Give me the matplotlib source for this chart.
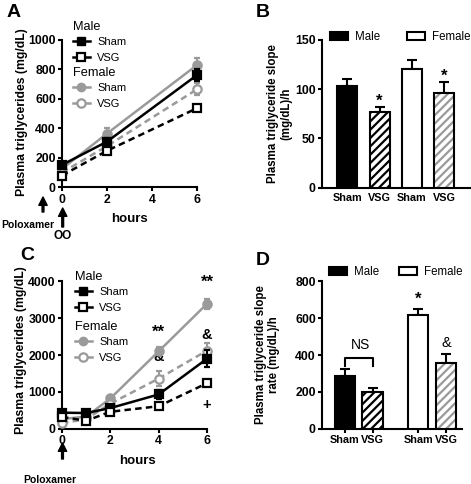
import matplotlib
matplotlib.use("Agg")
import matplotlib.pyplot as plt
from matplotlib.lines import Line2D
from matplotlib.patches import Patch

plt.rcParams['font.family'] = ['Liberation Sans', 'DejaVu Sans']
plt.rcParams['hatch.linewidth'] = 1.6

#---------------------------
# panel A: triglycerides after poloxamer + oil gavage
hours_a = [0, 2, 6]
a_male_sham = [152, 310, 762]
a_male_sham_err = [18, 25, 42]
a_male_vsg = [80, 248, 537]
a_male_vsg_err = [12, 18, 18]
a_female_sham = [125, 365, 830]
a_female_sham_err = [15, 35, 50]
a_female_vsg = [100, 280, 665]
a_female_vsg_err = [12, 25, 40]

# panel B: slopes
bar_labels = ['Sham', 'VSG', 'Sham', 'VSG']
b_vals = [103, 77, 121, 96.5]
b_err = [7, 5, 9, 11]

# panel C: triglycerides after poloxamer only
hours_c = [0, 1, 2, 4, 6]
c_male_sham = [435, 425, 560, 930, 1900]
c_male_sham_err = [60, 50, 60, 120, 230]
c_male_vsg = [320, 215, 460, 610, 1235]
c_male_vsg_err = [40, 30, 50, 60, 80]
c_female_sham = [260, 330, 820, 2100, 3390]
c_female_sham_err = [40, 40, 70, 120, 130]
c_female_vsg = [150, 260, 680, 1360, 2120]
c_female_vsg_err = [30, 30, 80, 200, 200]
c_marks = [(4, 2620, '**'), (6, 3980, '**'), (4, 1935, '&'), (6, 2540, '&'), (6, 640, '+')]

# panel D: slope rate
d_vals = [288, 199, 617, 355]
d_err = [34, 20, 31, 50]

GRAY = '#9a9a9a'
W, H = 471, 484

fig = plt.figure(figsize=(W / 100, H / 100), dpi=100)

def px_axes(l, t, r, b):
    return fig.add_axes([l / W, 1 - b / H, (r - l) / W, (b - t) / H])

def style(ax):
    for s in ['top', 'right']:
        ax.spines[s].set_visible(False)
    for s in ['left', 'bottom']:
        ax.spines[s].set_linewidth(1.5)
    ax.tick_params(direction='out', length=3, width=1.5, labelsize=8.8, pad=1.5)
    for t in ax.get_xticklabels() + ax.get_yticklabels():
        t.set_fontweight('bold')

def line_series(ax, x, series):
    for y, e, col, ls, mk, mfc, z in series:
        cont = ax.errorbar(x, y, yerr=e, color=col, ls=ls, marker=mk, mfc=mfc, mec=col,
                           ms=6, mew=1.6, lw=1.8, capsize=2.5, elinewidth=1.5,
                           capthick=1.5, zorder=z)
        for art in cont.get_children():
            art.set_clip_on(False)

def line_legends(ax, x0, y_male, y_female):
    # group headers as plain text, entries as two small legends
    h_ms = Line2D([], [], color='black', marker='s', ms=6, mfc='black', lw=1.8)
    h_mv = Line2D([], [], color='black', marker='s', ms=6, mfc='white', mew=1.6, lw=1.8)
    h_fs = Line2D([], [], color=GRAY, marker='o', ms=6, mfc=GRAY, lw=1.8)
    h_fv = Line2D([], [], color=GRAY, marker='o', ms=6, mfc='white', mew=1.6, lw=1.8)
    opts = dict(loc='center left', bbox_transform=fig.transFigure, frameon=False, fontsize=8,
                borderpad=0, borderaxespad=0, handlelength=1.5, handletextpad=0.7,
                labelspacing=0.55)
    leg1 = ax.legend([h_ms, h_mv], ['Sham', 'VSG'],
                     bbox_to_anchor=(x0 / W, 1 - (y_male + 23) / H), **opts)
    ax.add_artist(leg1)
    ax.legend([h_fs, h_fv], ['Sham', 'VSG'],
              bbox_to_anchor=(x0 / W, 1 - (y_female + 23) / H), **opts)
    fig.text(x0 / W, 1 - y_male / H, 'Male', fontsize=9.2, va='center')
    fig.text(x0 / W, 1 - y_female / H, 'Female', fontsize=9.2, va='center')

def up_arrow(x, ytop, ybot):
    fig.axes[0].annotate('', xy=(x / W, 1 - ytop / H), xytext=(x / W, 1 - ybot / H),
                         xycoords='figure fraction', textcoords='figure fraction',
                         annotation_clip=False,
                         arrowprops=dict(facecolor='black', edgecolor='black', width=1.3,
                                         headwidth=6, headlength=6, shrink=0))

dash = (0, (2.6, 1.7))

#-------------------------
# A
axA = px_axes(62, 40, 197, 187.3)
line_series(axA, hours_a, [
    (a_female_sham, a_female_sham_err, GRAY, '-', 'o', GRAY, 3),
    (a_female_vsg, a_female_vsg_err, GRAY, dash, 'o', 'white', 3),
    (a_male_sham, a_male_sham_err, 'black', '-', 's', 'black', 4),
    (a_male_vsg, a_male_vsg_err, 'black', dash, 's', 'white', 4),
])
axA.set_xlim(0, 6)
axA.set_ylim(0, 1000)
axA.set_xticks([0, 2, 4, 6])
axA.set_yticks([0, 200, 400, 600, 800, 1000])
style(axA)
axA.set_ylabel('Plasma triglycerides (mg/dL)', fontsize=8.8, fontweight='bold')
axA.yaxis.set_label_coords(-0.255, 0.51)
axA.set_xlabel('hours', fontsize=9.5, fontweight='bold')
axA.xaxis.set_label_coords(0.5, -0.174)
line_legends(axA, 73, 27, 73)

#-------------------------
# B
axB = px_axes(322, 40, 470, 187.7)
pos_b = [0, 1, 2, 3]
axB.errorbar(pos_b, b_vals, yerr=[[0] * 4, b_err], fmt='none', ecolor='black',
             elinewidth=1.5, capsize=3.5, capthick=1.5, zorder=2)
bw = 0.62
axB.bar(pos_b[0], b_vals[0], bw, color='black', edgecolor='black', lw=1.5, zorder=3)
axB.bar(pos_b[1], b_vals[1], bw, color='white', edgecolor='black', hatch='////', lw=1.5, zorder=3)
axB.bar(pos_b[2], b_vals[2], bw, color='white', edgecolor='black', lw=1.5, zorder=3)
axB.bar(pos_b[3], b_vals[3], bw, color='white', edgecolor=GRAY, hatch='////', lw=0, zorder=3)
axB.bar(pos_b[3], b_vals[3], bw, fill=False, edgecolor='black', lw=1.5, zorder=3)
axB.set_xlim(-0.78, 3.79)
axB.set_ylim(0, 150)
axB.set_yticks([0, 50, 100, 150])
axB.set_xticks(pos_b)
axB.set_xticklabels(bar_labels)
style(axB)
axB.tick_params(axis='x', length=0, pad=4, labelsize=7.8)
axB.text(1, 88, '*', ha='center', va='center', fontsize=12, fontweight='bold')
axB.text(3, 113, '*', ha='center', va='center', fontsize=12, fontweight='bold')
axB.set_ylabel('Plasma triglyceride slope\n(mg/dL)/h', fontsize=8.3, fontweight='bold',
               linespacing=1.1)
axB.yaxis.set_label_coords(-0.203, 0.5)
bar_handles = [Patch(facecolor='black', edgecolor='black', lw=1.5),
               Patch(facecolor='white', edgecolor='black', lw=1.5)]
axB.legend(bar_handles, ['Male', 'Female'], ncol=2, loc='center left',
           bbox_to_anchor=(330 / W, 1 - 37 / H), bbox_transform=fig.transFigure,
           frameon=False, fontsize=8.3, borderpad=0, borderaxespad=0,
           handlelength=1.6, handletextpad=0.6, columnspacing=2.3)

#-------------------------
# C
axC = px_axes(62, 281.3, 207, 428.7)
line_series(axC, hours_c, [
    (c_female_sham, c_female_sham_err, GRAY, '-', 'o', GRAY, 3),
    (c_female_vsg, c_female_vsg_err, GRAY, dash, 'o', 'white', 3),
    (c_male_sham, c_male_sham_err, 'black', '-', 's', 'black', 4),
    (c_male_vsg, c_male_vsg_err, 'black', dash, 's', 'white', 4),
])
axC.set_xlim(0, 6)
axC.set_ylim(0, 4000)
axC.set_xticks([0, 2, 4, 6])
axC.set_yticks([0, 1000, 2000, 3000, 4000])
style(axC)
for x, y, s in c_marks:
    axC.text(x, y, s, ha='center', va='center', fontsize=12 if '*' in s else 10.5,
             fontweight='bold')
axC.set_ylabel('Plasma triglycerides (mg/dL)', fontsize=8.8, fontweight='bold')
axC.yaxis.set_label_coords(-0.238, 0.534)
axC.set_xlabel('hours', fontsize=9.5, fontweight='bold')
axC.xaxis.set_label_coords(0.517, -0.178)
line_legends(axC, 75, 277, 327)

#-------------------------
# D
axD = px_axes(322, 281.3, 462, 428.7)
pos_d = [0, 1, 2.64, 3.64]
axD.errorbar(pos_d, d_vals, yerr=[[0] * 4, d_err], fmt='none', ecolor='black',
             elinewidth=1.5, capsize=3.5, capthick=1.5, zorder=2)
dw = 0.74
axD.bar(pos_d[0], d_vals[0], dw, color='black', edgecolor='black', lw=1.5, zorder=3)
axD.bar(pos_d[1], d_vals[1], dw, color='white', edgecolor='black', hatch='////', lw=1.5, zorder=3)
axD.bar(pos_d[2], d_vals[2], dw, color='white', edgecolor='black', lw=1.5, zorder=3)
axD.bar(pos_d[3], d_vals[3], dw, color='white', edgecolor=GRAY, hatch='////', lw=0, zorder=3)
axD.bar(pos_d[3], d_vals[3], dw, fill=False, edgecolor='black', lw=1.5, zorder=3)
axD.set_xlim(-0.83, 4.22)
axD.set_ylim(0, 800)
axD.set_yticks([0, 200, 400, 600, 800])
axD.set_xticks(pos_d)
axD.set_xticklabels(bar_labels)
style(axD)
axD.tick_params(axis='x', labelsize=7.8)
axD.plot([pos_d[0], pos_d[0], pos_d[1], pos_d[1]], [340, 382, 382, 340], color='black', lw=1.5)
axD.text(0.55, 454, 'NS', ha='center', va='center', fontsize=10)
axD.text(pos_d[2], 700, '*', ha='center', va='center', fontsize=12, fontweight='bold')
axD.text(pos_d[3], 467, '&', ha='center', va='center', fontsize=10.5)
axD.set_ylabel('Plasma triglyceride slope\nrate (mg/dL)/h', fontsize=8.3, fontweight='bold',
               linespacing=1.1)
axD.yaxis.set_label_coords(-0.3, 0.5)
axD.legend(bar_handles, ['Male', 'Female'], ncol=2, loc='center left',
           bbox_to_anchor=(329 / W, 1 - 272 / H), bbox_transform=fig.transFigure,
           frameon=False, fontsize=8.3, borderpad=0, borderaxespad=0,
           handlelength=1.6, handletextpad=0.6, columnspacing=1.65)

#-------------------------
# panel letters, arrows and notes below the x axes
for x, y, s in [(7, 17, 'A'), (256, 17, 'B'), (20, 260, 'C'), (256, 265, 'D')]:
    fig.text(x / W, 1 - y / H, s, fontsize=14, fontweight='bold')

up_arrow(43, 197, 212)
up_arrow(62.7, 208, 227)
up_arrow(62.5, 443, 459)
fig.text(1 / W, 1 - 225 / H, 'Poloxamer', fontsize=7.5, fontweight='bold', va='center')
fig.text(63 / W, 1 - 236 / H, 'OO', fontsize=8.5, fontweight='bold', va='center', ha='center')
fig.text(50 / W, 1 - 480 / H, 'Poloxamer', fontsize=7.5, fontweight='bold', va='center', ha='center')

fig.savefig('out.png', dpi=100)
